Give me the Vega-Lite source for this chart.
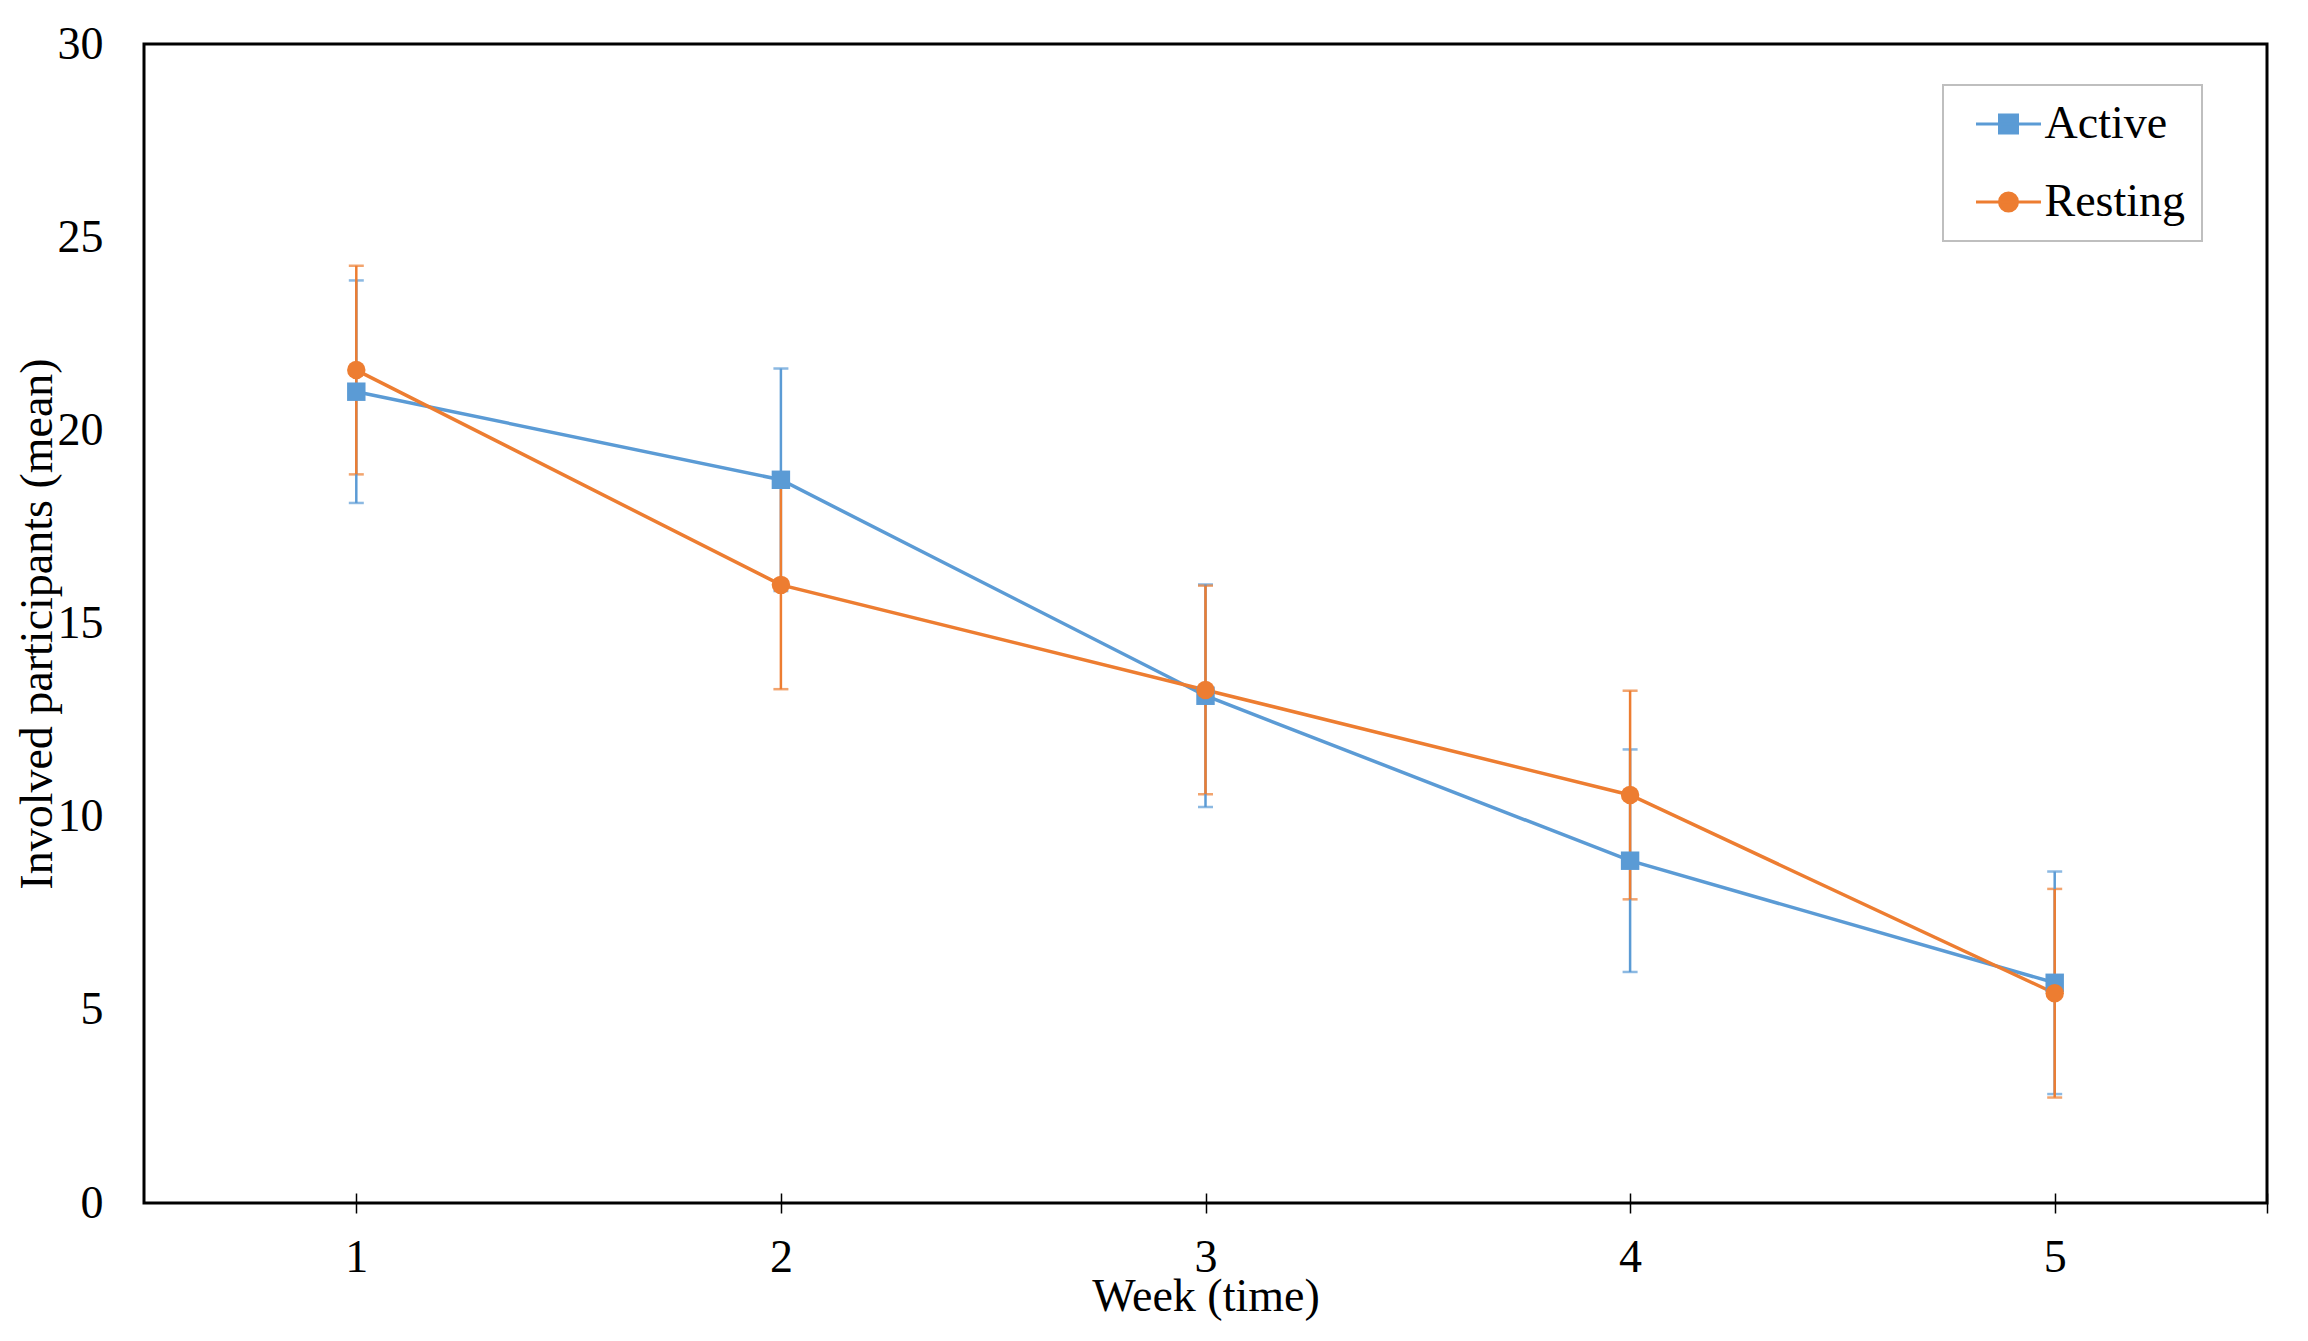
{
  "$schema": "https://vega.github.io/schema/vega-lite/v6.json",
  "autosize": "none",
  "width": 2123,
  "height": 1159,
  "padding": {"left": 144, "top": 44, "right": 41, "bottom": 138},
  "background": "white",
  "config": {
    "font": "Liberation Serif",
    "view": {"stroke": "black", "strokeWidth": 3},
    "axis": {"grid": false, "labelColor": "black", "titleColor": "black", "titleFontWeight": "normal"}
  },
  "data": {
    "values": [
      {"week": 1, "series": "Active", "mean": 21.0, "lower": 18.12, "upper": 23.88},
      {"week": 2, "series": "Active", "mean": 18.72, "lower": 15.84, "upper": 21.6},
      {"week": 3, "series": "Active", "mean": 13.13, "lower": 10.25, "upper": 16.01},
      {"week": 4, "series": "Active", "mean": 8.86, "lower": 5.98, "upper": 11.74},
      {"week": 5, "series": "Active", "mean": 5.7, "lower": 2.82, "upper": 8.58},
      {"week": 1, "series": "Resting", "mean": 21.56, "lower": 18.86, "upper": 24.26},
      {"week": 2, "series": "Resting", "mean": 16.0, "lower": 13.3, "upper": 18.7},
      {"week": 3, "series": "Resting", "mean": 13.28, "lower": 10.58, "upper": 15.98},
      {"week": 4, "series": "Resting", "mean": 10.56, "lower": 7.86, "upper": 13.26},
      {"week": 5, "series": "Resting", "mean": 5.43, "lower": 2.73, "upper": 8.13}
    ]
  },
  "encoding": {
    "x": {
      "field": "week",
      "type": "quantitative",
      "scale": {"domain": [0.5, 5.5], "nice": false, "zero": false},
      "axis": {
        "values": [1, 2, 3, 4, 5, 5.5],
        "labelExpr": "datum.value == 5.5 ? '' : datum.label",
        "offset": -10,
        "tickSize": 20,
        "tickWidth": 1.5,
        "tickColor": "black",
        "domain": false,
        "labelPadding": 22,
        "labelFontSize": 46,
        "title": "Week (time)",
        "titleFontSize": 46,
        "titlePadding": -6
      }
    },
    "color": {
      "field": "series",
      "type": "nominal",
      "scale": {"domain": ["Active", "Resting"], "range": ["#5B9BD5", "#ED7D31"]},
      "legend": {
        "title": null,
        "orient": "none",
        "legendX": 1799,
        "legendY": 41,
        "padding": 16,
        "strokeColor": "#BFBFBF",
        "fillColor": "white",
        "cornerRadius": 0,
        "labelFontSize": 46,
        "labelColor": "black",
        "labelFont": "Liberation Serif",
        "labelOffset": 13,
        "rowPadding": 32,
        "symbolSize": 1600,
        "symbolOffset": 26.5,
        "labelLimit": 400,
        "encode": {
          "legend": {"update": {"strokeWidth": {"value": 2}}},
          "symbols": {
            "update": {
              "shape": {"signal": "datum.value == 'Active' ? 'M-1.625,0H1.625M-0.45,-0.45H0.45V0.45H-0.45Z' : 'M-1.625,0H1.625M0.45,0A0.45,0.45,0,1,1,-0.45,0A0.45,0.45,0,1,1,0.45,0Z'"},
              "fill": {"signal": "datum.value == 'Active' ? '#5B9BD5' : '#ED7D31'"},
              "stroke": {"signal": "datum.value == 'Active' ? '#5B9BD5' : '#ED7D31'"},
              "strokeWidth": {"value": 3},
              "opacity": {"value": 1},
              "fillOpacity": {"value": 1},
              "strokeOpacity": {"value": 1}
            }
          }
        }
      }
    }
  },
  "layer": [
    {
      "mark": {"type": "errorbar", "ticks": {"size": 15}, "thickness": 2.5},
      "encoding": {
        "y": {
          "field": "lower",
          "type": "quantitative",
          "scale": {"domain": [0, 30], "nice": false},
          "axis": {
            "values": [0, 5, 10, 15, 20, 25, 30],
            "ticks": false,
            "tickSize": 0,
            "domain": false,
            "labelPadding": 41,
            "labelFontSize": 46,
            "title": "Involved participants (mean)",
            "titleFontSize": 46,
            "titlePadding": -4
          }
        },
        "y2": {"field": "upper"}
      }
    },
    {
      "mark": {"type": "line", "strokeWidth": 3.5},
      "encoding": {
        "y": {"field": "mean", "type": "quantitative"}
      }
    },
    {
      "mark": {"type": "point", "filled": true, "size": 340, "opacity": 1},
      "encoding": {
        "y": {"field": "mean", "type": "quantitative"},
        "shape": {
          "condition": {"test": "datum.series == 'Active'", "value": "square"},
          "value": "circle"
        }
      }
    }
  ]
}
